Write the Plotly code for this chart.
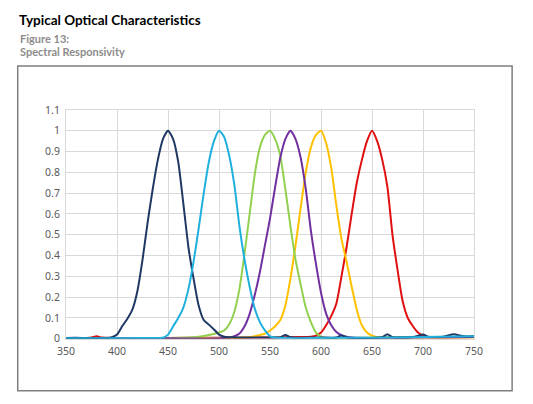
import plotly.graph_objects as go

# spectral responsivity curves
navy_wl = [350, 360, 370, 380, 390, 395, 400, 405, 410, 415, 420, 425, 430, 435, 440, 445, 450,
           455, 460, 465, 470, 475, 480, 485, 490, 495, 500, 505, 510, 530, 550, 560, 565, 570,
           580, 600, 615, 620, 625, 640, 660, 665, 670, 690, 700, 705, 720, 730, 740, 750]
navy_resp = [0.004, 0.005, 0.003, 0.003, 0.004, 0.008, 0.02, 0.06, 0.095, 0.14, 0.23, 0.38, 0.56,
             0.72, 0.86, 0.96, 1.0, 0.96, 0.85, 0.65, 0.44, 0.29, 0.16, 0.09, 0.068, 0.045, 0.02,
             0.01, 0.007, 0.006, 0.006, 0.008, 0.018, 0.008, 0.005, 0.006, 0.006, 0.016, 0.006,
             0.004, 0.008, 0.022, 0.008, 0.008, 0.02, 0.01, 0.01, 0.022, 0.012, 0.012]

cyan_wl = [350, 400, 440, 445, 450, 455, 460, 465, 470, 475, 480, 485, 490, 495, 500, 505, 510,
           515, 520, 525, 530, 535, 540, 545, 550, 555, 570, 600, 650, 700, 750]
cyan_resp = [0.003, 0.003, 0.004, 0.005, 0.02, 0.06, 0.1, 0.15, 0.24, 0.37, 0.53, 0.7, 0.85, 0.95,
             1.0, 0.97, 0.88, 0.74, 0.54, 0.38, 0.25, 0.145, 0.08, 0.04, 0.012, 0.006, 0.003,
             0.004, 0.005, 0.008, 0.012]

green_wl = [350, 400, 450, 470, 480, 490, 500, 505, 510, 515, 520, 525, 530, 535, 540, 545, 550,
            555, 560, 565, 570, 575, 580, 585, 590, 595, 600, 605, 650, 700, 750]
green_resp = [0.0, 0.002, 0.004, 0.006, 0.01, 0.018, 0.03, 0.04, 0.07, 0.13, 0.24, 0.41, 0.6,
              0.79, 0.92, 0.98, 1.0, 0.96, 0.88, 0.72, 0.54, 0.38, 0.26, 0.15, 0.08, 0.03, 0.01,
              0.004, 0.006, 0.008, 0.01]

purple_wl = [350, 450, 500, 505, 510, 515, 520, 525, 530, 535, 540, 545, 550, 555, 560, 565, 570,
             575, 580, 585, 590, 595, 600, 605, 610, 615, 620, 625, 630, 650, 700, 750]
purple_resp = [0.002, 0.002, 0.002, 0.004, 0.006, 0.012, 0.025, 0.06, 0.12, 0.21, 0.32, 0.45,
               0.58, 0.73, 0.87, 0.96, 1.0, 0.96, 0.87, 0.72, 0.52, 0.36, 0.22, 0.12, 0.065,
               0.033, 0.018, 0.01, 0.006, 0.004, 0.006, 0.008]

yellow_wl = [350, 450, 520, 530, 540, 545, 550, 555, 560, 565, 570, 575, 580, 585, 590, 595, 600,
             605, 610, 615, 620, 625, 630, 635, 640, 645, 650, 655, 700, 750]
yellow_resp = [0.002, 0.003, 0.005, 0.008, 0.018, 0.025, 0.04, 0.06, 0.09, 0.16, 0.29, 0.45, 0.63,
               0.8, 0.92, 0.98, 1.0, 0.94, 0.82, 0.64, 0.48, 0.37, 0.25, 0.14, 0.065, 0.03,
               0.015, 0.008, 0.006, 0.006]

red_wl = [350, 370, 375, 380, 385, 400, 450, 500, 550, 580, 590, 595, 600, 605, 610, 615, 620,
          625, 630, 635, 640, 645, 650, 655, 660, 665, 670, 675, 680, 685, 690, 695, 700, 705,
          720, 750]
red_resp = [0.002, 0.004, 0.006, 0.012, 0.006, 0.004, 0.004, 0.005, 0.006, 0.008, 0.01, 0.015,
            0.03, 0.065, 0.11, 0.17, 0.3, 0.44, 0.6, 0.75, 0.86, 0.95, 1.0, 0.95, 0.86, 0.73,
            0.5, 0.33, 0.18, 0.1, 0.06, 0.03, 0.014, 0.008, 0.006, 0.008]

x_ticks = [350, 400, 450, 500, 550, 600, 650, 700, 750]
y_ticks = [0, 0.1, 0.2, 0.3, 0.4, 0.5, 0.6, 0.7, 0.8, 0.9, 1, 1.1]

curves = [
    (red_wl, red_resp, "#e01010"),
    (yellow_wl, yellow_resp, "#ffc000"),
    (green_wl, green_resp, "#92d050"),
    (purple_wl, purple_resp, "#7030a0"),
    (navy_wl, navy_resp, "#1f3864"),
    (cyan_wl, cyan_resp, "#1fb0dd"),
]

W, H = 533, 404
# the page shows up shifted and a bit shrunk, so map wanted pixels back
SX, OX, OY = 0.966, 16, 14


def px(x):
    return max((x - OX) / SX, 0.75) / W


def py(y):
    return 1 - max((y - OY) / SX, 0) / H


fig = go.Figure()
for wl, resp, col in curves:
    fig.add_trace(go.Scatter(x=wl, y=resp, mode="lines",
                             line=dict(color=col, width=2, shape="spline", smoothing=0.6),
                             showlegend=False, hoverinfo="skip"))

fig.update_layout(
    width=W, height=H,
    margin=dict(l=0, r=0, t=0, b=0),
    paper_bgcolor="white", plot_bgcolor="white",
    font=dict(family="Noto Sans", size=10.5, color="#595959"),
    xaxis=dict(domain=[px(65), px(473)], range=[350, 750], tickvals=x_ticks,
               showgrid=True, gridcolor="#d9d9d9", gridwidth=1, zeroline=False,
               showline=True, linecolor="#d9d9d9", mirror=True, ticks="",
               ticklabelstandoff=3, tickfont=dict(size=10.5, color="#595959")),
    yaxis=dict(domain=[py(338), py(109)], range=[0, 1.1], tickvals=y_ticks,
               showgrid=True, gridcolor="#d9d9d9", gridwidth=1, zeroline=False,
               showline=True, linecolor="#d9d9d9", mirror=True, ticks="",
               ticklabelstandoff=3, tickfont=dict(size=10.5, color="#595959")),
)

# frame around the chart
fig.add_shape(type="rect", xref="paper", yref="paper",
              x0=px(14), x1=px(511), y0=py(390), y1=py(65),
              line=dict(color="#7f7f7f", width=1.5))

fig.add_annotation(text="<b>Typical Optical Characteristics</b>", xref="paper", yref="paper",
                   x=0, y=1 - 5.5 / H, xanchor="left", yanchor="middle", showarrow=False,
                   font=dict(family="Lato", size=13.5, color="black"))
fig.add_annotation(text="<b>Figure 13:</b>", xref="paper", yref="paper",
                   x=px(12), y=py(37.5), xanchor="left", yanchor="middle", showarrow=False,
                   font=dict(family="Lato", size=11, color="#8c8c8c"))
fig.add_annotation(text="<b>Spectral Responsivity</b>", xref="paper", yref="paper",
                   x=px(12), y=py(50.5), xanchor="left", yanchor="middle", showarrow=False,
                   font=dict(family="Lato", size=11, color="#8c8c8c"))

fig.write_html("out.html")
